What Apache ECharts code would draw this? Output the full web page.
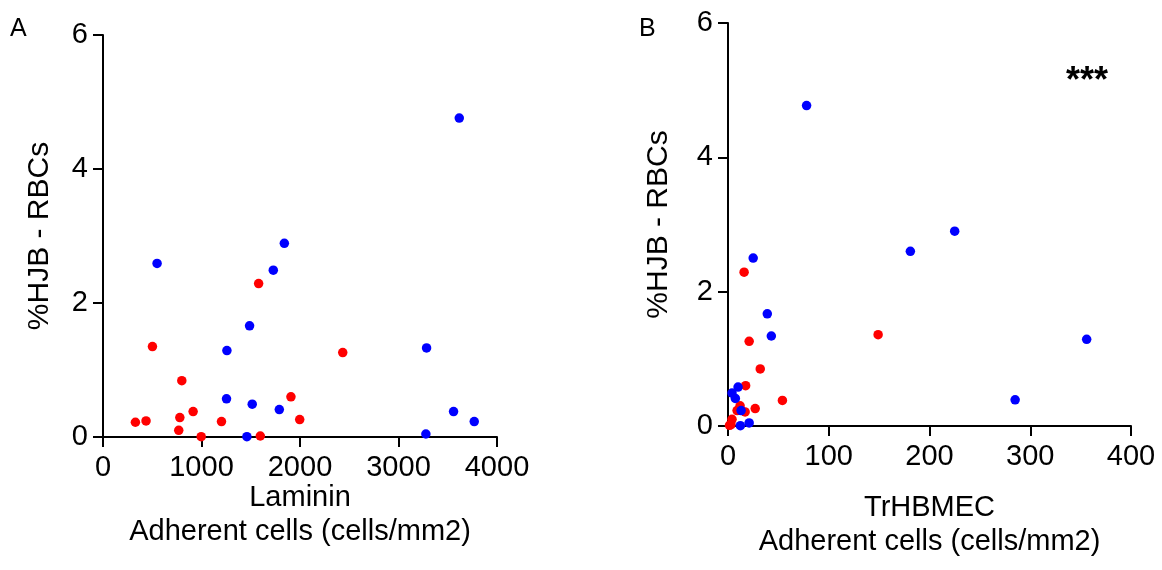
<!DOCTYPE html>
<html>
<head>
<meta charset="utf-8">
<script src="https://cdn.jsdelivr.net/npm/echarts@6/dist/echarts.min.js"></script>
<style>
html,body{margin:0;padding:0;background:#fff;}
#chart{width:1162px;height:570px;}
</style>
</head>
<body>
<div id="chart"></div>
<script>
// Panel A: Laminin adherent cells (x) vs %HJB-RBCs (y)
var lamininBlueX = [3617, 549, 1841, 1729, 1488, 1258, 3285, 1254, 1515, 1790, 3559, 3769, 3278, 1461];
var lamininBlueY = [4.76, 2.59, 2.89, 2.49, 1.66, 1.29, 1.33, 0.57, 0.49, 0.41, 0.38, 0.23, 0.045, 0.005];
var lamininRedX = [502, 1580, 2434, 800, 1908, 915, 780, 1997, 329, 437, 1203, 769, 997, 1597];
var lamininRedY = [1.35, 2.29, 1.26, 0.84, 0.60, 0.38, 0.29, 0.26, 0.22, 0.24, 0.23, 0.10, 0.005, 0.015];

// Panel B: TrHBMEC adherent cells (x) vs %HJB-RBCs (y)
var trhbmecBlueX = [78, 225, 181, 25, 39, 43, 356, 285, 10, 4, 7.3, 13, 12.3, 21];
var trhbmecBlueY = [4.77, 2.90, 2.60, 2.50, 1.67, 1.34, 1.29, 0.39, 0.58, 0.49, 0.41, 0.23, 0.005, 0.045];
var trhbmecRedX = [16, 149, 21, 32, 17.5, 54, 12, 27, 9, 17, 12.5, 4, 1.5, 3];
var trhbmecRedY = [2.29, 1.36, 1.26, 0.85, 0.60, 0.38, 0.30, 0.26, 0.23, 0.21, 0.24, 0.10, 0.01, 0.02];

var yTicks = [0, 2, 4, 6];
var xTicksA = [0, 1000, 2000, 3000, 4000];
var xTicksB = [0, 100, 200, 300, 400];

var panelLabels = ['A', 'B'];
var yTitle = '%HJB - RBCs';
var xTitleA = 'Laminin\nAdherent cells (cells/mm2)';
var xTitleB = 'TrHBMEC\nAdherent cells (cells/mm2)';
var sigText = '***';

function pairs(xs, ys) { return xs.map(function (x, i) { return [x, ys[i]]; }); }

var FONT = '"Liberation Sans", Arial, sans-serif';
var axisLine = { show: true, lineStyle: { color: '#000', width: 2 } };
var axisTick = { show: true, inside: false, length: 10, lineStyle: { color: '#000', width: 2 } };
function plain(v) { return String(v); }

function xAxis(idx, ticks, name, gap) {
  return {
    type: 'value', gridIndex: idx,
    min: ticks[0], max: ticks[ticks.length - 1], interval: ticks[1] - ticks[0],
    axisLine: axisLine, axisTick: axisTick, splitLine: { show: false },
    axisLabel: { color: '#000', fontSize: 29, fontFamily: FONT, margin: 16, formatter: plain },
    name: name, nameLocation: 'middle', nameGap: gap, nameMoveOverlap: false,
    nameTextStyle: { color: '#000', fontSize: 29, fontFamily: FONT, lineHeight: 34, verticalAlign: 'top' }
  };
}
function yAxis(idx, gap) {
  return {
    type: 'value', gridIndex: idx,
    min: yTicks[0], max: yTicks[yTicks.length - 1], interval: yTicks[1] - yTicks[0],
    axisLine: axisLine, axisTick: axisTick, splitLine: { show: false },
    axisLabel: { color: '#000', fontSize: 29, fontFamily: FONT, margin: 15, formatter: plain },
    name: yTitle, nameLocation: 'middle', nameGap: gap, nameRotate: 90, nameMoveOverlap: false,
    nameTextStyle: { color: '#000', fontSize: 30, fontFamily: FONT }
  };
}
function scatter(xi, data, color) {
  return {
    type: 'scatter', xAxisIndex: xi, yAxisIndex: xi, data: data,
    symbol: 'circle', symbolSize: 9.5, itemStyle: { color: color, opacity: 1 },
    silent: true
  };
}

var chart = echarts.init(document.getElementById('chart'), null, { renderer: 'canvas' });
chart.setOption({
  animation: false,
  backgroundColor: '#fff',
  grid: [
    { left: 103, top: 35, width: 394, height: 402 },
    { left: 728, top: 23, width: 403, height: 403 }
  ],
  xAxis: [xAxis(0, xTicksA, xTitleA, 44), xAxis(1, xTicksB, xTitleB, 65)],
  yAxis: [yAxis(0, 48), yAxis(1, 54)],
  series: [
    scatter(0, pairs(lamininRedX, lamininRedY), '#ff0000'),
    scatter(0, pairs(lamininBlueX, lamininBlueY), '#0000ff'),
    scatter(1, pairs(trhbmecRedX, trhbmecRedY), '#ff0000'),
    scatter(1, pairs(trhbmecBlueX, trhbmecBlueY), '#0000ff')
  ],
  graphic: [
    { type: 'text', left: 10, top: 17, style: { text: panelLabels[0], fontSize: 25, fontFamily: FONT, fill: '#000' } },
    { type: 'text', left: 639, top: 17, style: { text: panelLabels[1], fontSize: 25, fontFamily: FONT, fill: '#000' } },
    { type: 'text', left: 1066, top: 64, style: { text: sigText, fontSize: 36, fontWeight: 'bold', fontFamily: FONT, fill: '#000' } }
  ]
});
</script>
</body>
</html>
